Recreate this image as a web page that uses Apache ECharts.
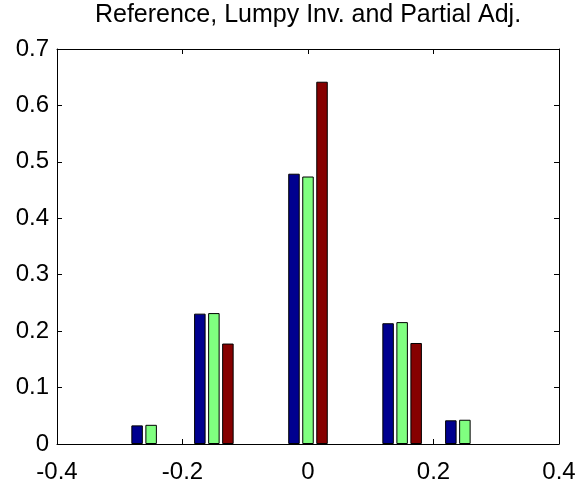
<!DOCTYPE html>
<html>
<head>
<meta charset="utf-8">
<script src="https://cdn.jsdelivr.net/npm/echarts@6/dist/echarts.min.js"></script>
<style>
  html, body { margin: 0; padding: 0; background: #fff; }
  #chart { width: 582px; height: 484px; }
</style>
</head>
<body>
<div id="chart"></div>
<script>
const titleText = "Reference, Lumpy Inv. and Partial Adj.";

// bar group positions on the x axis
const groupX = [-0.25, -0.15, 0, 0.15, 0.25];

// heights per series; null = no bar drawn
const blueVals = [0.033, 0.231, 0.479, 0.214, 0.042];
const greenVals = [0.034, 0.232, 0.474, 0.216, 0.043];
const redVals = [null, 0.178, 0.642, 0.179, null];

const xTicks = { min: -0.4, max: 0.4, step: 0.2 };
const yTicks = { min: 0, max: 0.7, step: 0.1 };

const font = "Liberation Sans, Arial, Helvetica, sans-serif";

function pairs(vals) {
  return groupX.map((x, i) => [x, vals[i] === null ? "-" : vals[i]]);
}

function barSeries(name, vals, color) {
  return {
    name,
    type: "bar",
    barWidth: 11.5,
    barGap: "22%",
    data: pairs(vals),
    itemStyle: { color, borderColor: "#000", borderWidth: 1 },
    emphasis: { disabled: true },
  };
}

function axisBase(show, margin) {
  return {
    axisLine: { show: true, onZero: false, lineStyle: { color: "#000", width: 1 } },
    axisTick: { show: true, inside: true, length: 5, lineStyle: { color: "#000" } },
    splitLine: { show: false },
    axisLabel: {
      show,
      margin,
      color: "#000",
      fontFamily: font,
      fontSize: 24,
    },
  };
}

const chart = echarts.init(document.getElementById("chart"));

chart.setOption({
  animation: false,
  backgroundColor: "#fff",
  title: {
    text: titleText,
    left: 308,
    top: 3,
    padding: 0,
    textAlign: "center",
    textStyle: { color: "#000", fontFamily: font, fontSize: 25, fontWeight: "normal" },
  },
  grid: { left: 57, right: 23, top: 49, bottom: 40 },
  xAxis: [
    Object.assign(axisBase(true, 16), {
      type: "value", position: "bottom",
      min: xTicks.min, max: xTicks.max, interval: xTicks.step,
    }),
    Object.assign(axisBase(false, 0), {
      type: "value", position: "top",
      min: xTicks.min, max: xTicks.max, interval: xTicks.step,
    }),
  ],
  yAxis: [
    Object.assign(axisBase(true, 8), {
      type: "value", position: "left",
      min: yTicks.min, max: yTicks.max, interval: yTicks.step,
    }),
    Object.assign(axisBase(false, 0), {
      type: "value", position: "right",
      min: yTicks.min, max: yTicks.max, interval: yTicks.step,
    }),
  ],
  series: [
    barSeries("Reference", blueVals, "#00008f"),
    barSeries("Lumpy Inv.", greenVals, "#80ff80"),
    barSeries("Partial Adj.", redVals, "#860000"),
  ],
});
</script>
</body>
</html>
